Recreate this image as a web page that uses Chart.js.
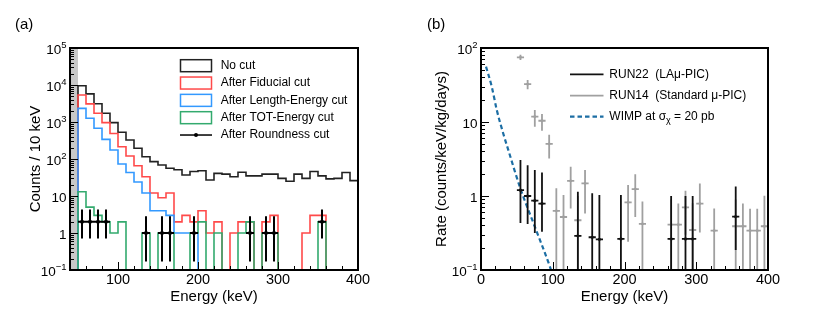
<!DOCTYPE html>
<html>
<head>
<meta charset="utf-8">
<script src="https://cdn.jsdelivr.net/npm/chart.js@4.4.1/dist/chart.umd.min.js"></script>
<style>
  html, body { margin: 0; padding: 0; background: #fff; }
  #wrap { position: relative; width: 830px; height: 319px; }
  #wrap canvas { position: absolute; top: 0; }
</style>
</head>
<body>
<div id="wrap">
  <canvas id="chartA" width="415" height="319" style="left:0"></canvas>
  <canvas id="chartB" width="415" height="319" style="left:415px"></canvas>
</div>
<script>
// ---- panel (a): counts per 10 keV bin (lower bin edges) ----
const binLow = [50,60,70,80,90,100,110,120,130,140,150,160,170,180,190,200,210,220,230,240,250,260,270,280,290,300,310,320,330,340,350,360,370,380,390];
const binWidth = 10;
const noCut    = [9550,5750,3100,1720,960,530,325,195,115,85,69,56,51,37,46,48,27,41,39,33,44,35,35,39,39,30,25,39,30,46,35,29,30,43,26];
const fiducial = [5350,3080,1730,960,490,215,120,66,33,12,9,12,2,3,2,4,1,2,0,1,2,2,0,2,3,0,0,0,1,3,3,0,0,0,0];
const lengthE  = [2340,1260,675,340,175,73,43,24,12,4,4,3,1,1,1,0,0,0,0,0,0,0,0,0,0,0,0,0,0,0,0,0,0,0,0];
const totE     = [13,5,3,2,1,2,0,0,1,0,1,1,0,0,1,2,0,1,0,0,1,2,0,1,1,0,0,0,0,0,2,0,0,0,0];

// events left after the roundness cut (bin centre, counts, error band)
const roundE  = [55,65,75,85,135,155,165,195,265,285,295,355];
const roundN  = [2,2,2,2,1,1,1,1,1,1,1,2];
const roundHi = [4.3,4.3,4.3,4.3,2.84,2.84,2.84,2.84,2.84,2.84,2.84,4.3];
const roundLo = [0.71,0.71,0.71,0.71,0.17,0.17,0.17,0.17,0.17,0.17,0.17,0.71];

const legendA = ['No cut', 'After Fiducial cut', 'After Length-Energy cut', 'After TOT-Energy cut', 'After Roundness cut'];
const colorsA = ['#222222', '#ff4a4a', '#3399ff', '#33aa6e', '#000000'];
const bandA = [40, 50];
const xTicksA = [100, 200, 300, 400];
const xLabelsA = ['100', '200', '300', '400'];
const yTicksA = [0.1, 1, 10, 100, 1e3, 1e4, 1e5];
const yLabelsA = ['10^\u22121', '1', '10', '10^2', '10^3', '10^4', '10^5'];

// ---- panel (b): rates ----
const run22E    = [55,65,75,85,135,155,165,195,265,285,295,355];
const run22Rate = [1.2,1.0,0.865,0.79,0.29,0.277,0.26,0.263,0.263,0.263,0.263,0.525];
const run22Hi   = [3.06,2.6,2.24,2.07,1.14,1.09,1.03,1.03,1.0,1.0,1.0,1.34];
const run22Lo   = [0.43,0.42,0.316,0.33,0.05,0.05,0.05,0.05,0.05,0.05,0.05,0.186];

const run14E    = [55,65,75,85,95,105,115,125,135,145,205,215,225,265,275,285,295,305,325,355,365,375,385,395];
const run14Rate = [74.8,32.4,11.8,10.4,5.05,0.63,0.52,1.6,0.47,1.48,0.82,1.24,0.42,0.41,0.41,0.70,0.347,0.79,0.34,0.39,0.39,0.34,0.34,0.39];
const run14Hi   = [81,37,14.5,12.8,6.7,1.27,1.03,2.49,1.0,2.24,1.41,1.96,0.84,0.9,0.79,1.18,0.8,1.48,0.68,0.9,0.79,0.67,0.67,1.01];
const run14Lo   = [69,27.7,8.6,7.6,3.2,0.05,0.05,0.68,0.05,0.58,0.24,0.52,0.05,0.05,0.05,0.3,0.05,0.32,0.05,0.05,0.05,0.05,0.05,0.05];

const wimpE    = [7, 15, 22, 31, 38, 54, 75, 96, 99];
const wimpRate = [56, 30, 14.5, 7.0, 4.2, 1.34, 0.385, 0.111, 0.09];

const legendB = ['RUN22  (LA\u03bc-PIC)', 'RUN14  (Standard \u03bc-PIC)', 'WIMP at \u03c3'];
const colorsB = ['#111111', '#a0a0a0', '#1c6ea4'];
const xTicksB = [0, 100, 200, 300, 400];
const xLabelsB = ['0', '100', '200', '300', '400'];
const yTicksB = [0.1, 1, 10, 100];
const yLabelsB = ['10^\u22121', '1', '10', '10^2'];

const FONT = '"Liberation Sans", Arial, Helvetica, sans-serif';
const FLOOR = 1e-3; // empty bins drop below the axis like ROOT does

function histData(vals) {
  const pts = [{x: binLow[0], y: FLOOR}];
  vals.forEach((v, i) => pts.push({x: binLow[i], y: v > 0 ? v : FLOOR}));
  pts.push({x: binLow[binLow.length - 1] + binWidth, y: FLOOR});
  return pts;
}
function histSet(vals, color) {
  return {type: 'line', data: histData(vals), borderColor: color, borderWidth: 1.6,
          pointRadius: 0, stepped: 'before', fill: false, showLine: true};
}

// "10^5" style labels, right aligned
function drawPow(ctx, text, xr, yc, size) {
  const parts = text.split('^');
  const es = 9.5;
  ctx.font = size + 'px ' + FONT;
  const wb = ctx.measureText(parts[0]).width;
  let we = 0;
  if (parts[1]) { ctx.font = es + 'px ' + FONT; we = ctx.measureText(parts[1]).width; }
  ctx.textAlign = 'left';
  ctx.textBaseline = 'alphabetic';
  ctx.font = size + 'px ' + FONT;
  ctx.fillText(parts[0], xr - wb - we, yc + 5.5);
  if (parts[1]) { ctx.font = es + 'px ' + FONT; ctx.fillText(parts[1], xr - we, yc - 0.5); }
}

function errorBars(chart, E, V, hi, lo, color, lw) {
  const {ctx, chartArea: a, scales: {x, y}} = chart;
  ctx.save();
  ctx.beginPath();
  ctx.rect(a.left, a.top, a.right - a.left, a.bottom - a.top);
  ctx.clip();
  ctx.strokeStyle = color;
  ctx.lineWidth = lw;
  ctx.beginPath();
  E.forEach((e, i) => {
    const px = x.getPixelForValue(e), py = y.getPixelForValue(V[i]);
    ctx.moveTo(px, y.getPixelForValue(hi[i]));
    ctx.lineTo(px, y.getPixelForValue(lo[i]));
    ctx.moveTo(x.getPixelForValue(e - 5), py);
    ctx.lineTo(x.getPixelForValue(e + 5), py);
  });
  ctx.stroke();
  ctx.restore();
}

function axesPlugin(o) {
  return {
    id: 'axes' + o.name,
    beforeDatasetsDraw(chart) {
      if (!o.band) return;
      const {ctx, chartArea: a, scales: {x}} = chart;
      const x0 = x.getPixelForValue(o.band[0]), x1 = x.getPixelForValue(o.band[1]);
      ctx.save();
      ctx.fillStyle = '#c8c8c8';
      ctx.fillRect(x0, a.top, x1 - x0, a.bottom - a.top);
      ctx.restore();
    },
    afterDatasetsDraw(chart) {
      const {ctx, chartArea: a, scales: {x, y}} = chart;
      o.errors(chart);
      ctx.save();
      ctx.strokeStyle = '#000';
      ctx.lineWidth = 1;
      ctx.beginPath();
      for (let v = o.xMinorFrom; v <= x.max; v += 20) {
        const px = Math.round(x.getPixelForValue(v)) + 0.5;
        const len = o.xTicks.includes(v) ? 8 : 4;
        ctx.moveTo(px, a.bottom); ctx.lineTo(px, a.bottom - len);
      }
      o.yTicks.forEach(d => {
        const py = Math.round(y.getPixelForValue(d)) + 0.5;
        ctx.moveTo(a.left, py); ctx.lineTo(a.left + 8, py);
        for (let k = 2; k <= 9; k++) {
          const v = d * k;
          if (v >= y.max) break;
          const pm = Math.round(y.getPixelForValue(v)) + 0.5;
          ctx.moveTo(a.left, pm); ctx.lineTo(a.left + 4, pm);
        }
      });
      ctx.stroke();
      ctx.lineWidth = 2;
      ctx.strokeRect(a.left, a.top, a.right - a.left, a.bottom - a.top);

      ctx.fillStyle = '#000';
      ctx.font = '14.5px ' + FONT;
      ctx.textAlign = 'center';
      ctx.textBaseline = 'alphabetic';
      o.xTicks.forEach((v, i) => ctx.fillText(o.xLabels[i], x.getPixelForValue(v), a.bottom + 14));
      o.yTicks.forEach((v, i) => drawPow(ctx, o.yLabels[i], a.left - 3.5, y.getPixelForValue(v), 13.5));

      ctx.font = '15px ' + FONT;
      ctx.textAlign = 'center';
      ctx.fillText('Energy (keV)', (a.left + a.right) / 2, 301);
      ctx.save();
      ctx.translate(o.yTitleX, (a.top + a.bottom) / 2);
      ctx.rotate(-Math.PI / 2);
      ctx.fillText(o.yTitle, 0, 0);
      ctx.restore();
      ctx.textAlign = 'left';
      ctx.fillText(o.panel, o.panelX, 28.5);
      o.legend(ctx);
      ctx.restore();
    }
  };
}

function legendDrawA(ctx) {
  ctx.save();
  ctx.font = '12px ' + FONT;
  ctx.textBaseline = 'middle';
  ctx.textAlign = 'left';
  legendA.forEach((lab, i) => {
    const ry = 65.7 + i * 17.33;
    ctx.strokeStyle = colorsA[i];
    ctx.lineWidth = 1.5;
    if (i < 4) {
      ctx.strokeRect(180.5, ry - 6, 31, 12);
    } else {
      ctx.beginPath(); ctx.moveTo(180, ry); ctx.lineTo(212, ry); ctx.stroke();
      ctx.fillStyle = '#000';
      ctx.beginPath(); ctx.arc(196, ry, 2, 0, Math.PI * 2); ctx.fill();
    }
    ctx.fillStyle = '#000';
    ctx.fillText(lab, 220.7, ry);
  });
  ctx.restore();
}

function legendDrawB(ctx) {
  ctx.save();
  ctx.font = '12px ' + FONT;
  ctx.textBaseline = 'middle';
  ctx.textAlign = 'left';
  const rows = [74.3, 95.7, 116.7];
  legendB.forEach((lab, i) => {
    const ry = rows[i];
    ctx.strokeStyle = colorsB[i];
    ctx.lineWidth = i === 2 ? 2.2 : 1.8;
    ctx.setLineDash(i === 2 ? [4.5, 3] : []);
    ctx.beginPath(); ctx.moveTo(155, ry); ctx.lineTo(188.5, ry); ctx.stroke();
    ctx.setLineDash([]);
    ctx.fillStyle = '#000';
    ctx.font = '12px ' + FONT;
    ctx.fillText(lab, 194.3, ry);
    if (i === 2) {
      let xx = 194.3 + ctx.measureText(lab).width;
      ctx.font = '9px ' + FONT;
      ctx.fillText('\u03c7', xx, ry + 3.5);
      xx += ctx.measureText('\u03c7').width;
      ctx.font = '12px ' + FONT;
      ctx.fillText(' = 20 pb', xx, ry);
    }
  });
  ctx.restore();
}

const common = {
  responsive: false,
  animation: false,
  events: [],
  plugins: {legend: {display: false}, tooltip: {enabled: false}}
};

new Chart(document.getElementById('chartA'), {
  type: 'scatter',
  data: {
    datasets: [
      {type: 'scatter', data: roundE.map((e, i) => ({x: e, y: roundN[i]})),
       pointRadius: 2, pointBackgroundColor: '#000', pointBorderWidth: 0},
      histSet(totE, colorsA[3]),
      histSet(lengthE, colorsA[2]),
      histSet(fiducial, colorsA[1]),
      histSet(noCut, colorsA[0])
    ]
  },
  options: Object.assign({}, common, {
    layout: {padding: {left: 70, top: 48, right: 57, bottom: 49}},
    scales: {
      x: {type: 'linear', min: 40, max: 400, display: false},
      y: {type: 'logarithmic', min: 0.1, max: 1e5, display: false}
    }
  }),
  plugins: [axesPlugin({
    name: 'A', band: bandA, xMinorFrom: 40, xTicks: xTicksA, xLabels: xLabelsA,
    yTicks: yTicksA, yLabels: yLabelsA, yTitle: 'Counts / 10 keV', yTitleX: 39.5,
    panel: '(a)', panelX: 15, legend: legendDrawA,
    errors: c => errorBars(c, roundE, roundN, roundHi, roundLo, '#000', 2)
  })]
});

new Chart(document.getElementById('chartB'), {
  type: 'scatter',
  data: {
    datasets: [
      {type: 'scatter', data: run22E.map((e, i) => ({x: e, y: run22Rate[i]})),
       pointRadius: 1.6, pointBackgroundColor: colorsB[0], pointBorderWidth: 0},
      {type: 'scatter', data: run14E.map((e, i) => ({x: e, y: run14Rate[i]})),
       pointRadius: 1.4, pointBackgroundColor: colorsB[1], pointBorderWidth: 0},
      {type: 'line', data: wimpE.map((e, i) => ({x: e, y: wimpRate[i]})), showLine: true,
       borderColor: colorsB[2], borderWidth: 2.2, borderDash: [4.5, 3], pointRadius: 0,
       cubicInterpolationMode: 'monotone', fill: false}
    ]
  },
  options: Object.assign({}, common, {
    layout: {padding: {left: 66, top: 48, right: 62, bottom: 49}},
    scales: {
      x: {type: 'linear', min: 0, max: 400, display: false},
      y: {type: 'logarithmic', min: 0.1, max: 100, display: false}
    }
  }),
  plugins: [axesPlugin({
    name: 'B', band: null, xMinorFrom: 0, xTicks: xTicksB, xLabels: xLabelsB,
    yTicks: yTicksB, yLabels: yLabelsB, yTitle: 'Rate (counts/keV/kg/days)', yTitleX: 31,
    panel: '(b)', panelX: 12, legend: legendDrawB,
    errors: c => {
      errorBars(c, run14E, run14Rate, run14Hi, run14Lo, colorsB[1], 1.8);
      errorBars(c, run22E, run22Rate, run22Hi, run22Lo, colorsB[0], 1.8);
    }
  })]
});
</script>
</body>
</html>
